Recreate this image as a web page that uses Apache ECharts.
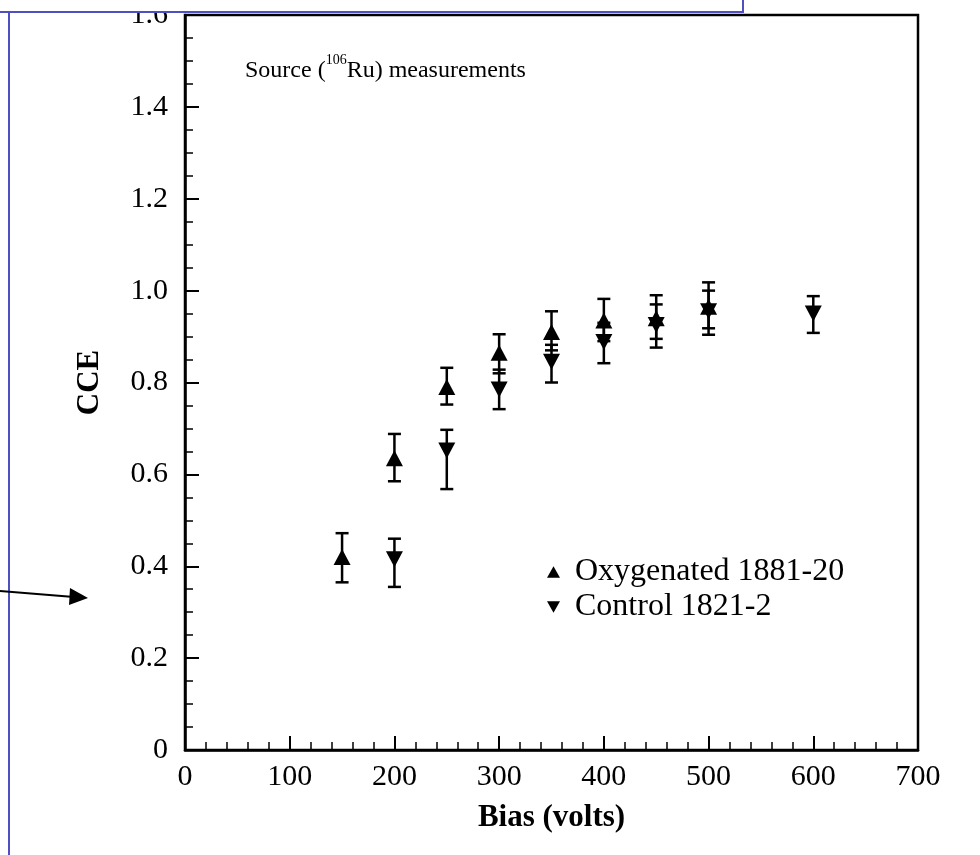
<!DOCTYPE html>
<html>
<head>
<meta charset="utf-8">
<script src="https://cdn.jsdelivr.net/npm/echarts@6/dist/echarts.min.js"></script>
<style>
html,body{margin:0;padding:0;background:#fff;}
#chart{width:980px;height:855px;}
</style>
</head>
<body>
<div id="chart"></div>
<script>
// ---- data ----
var oxyBias = [150, 200, 250, 300, 350, 400, 450, 500];
var oxyCCE  = [0.42, 0.635, 0.79, 0.865, 0.91, 0.935, 0.94, 0.965];
var oxyLow  = [0.365, 0.585, 0.752, 0.82, 0.87, 0.89, 0.895, 0.918];
var oxyHigh = [0.472, 0.688, 0.832, 0.905, 0.955, 0.982, 0.99, 1.018];

var ctlBias = [200, 250, 300, 350, 400, 450, 500, 600];
var ctlCCE  = [0.415, 0.652, 0.785, 0.845, 0.888, 0.925, 0.955, 0.95];
var ctlLow  = [0.355, 0.568, 0.742, 0.80, 0.842, 0.876, 0.904, 0.908];
var ctlHigh = [0.46, 0.697, 0.828, 0.882, 0.93, 0.97, 1.0, 0.988];

var xTicks = [0, 100, 200, 300, 400, 500, 600, 700];
var yTicks = [0, 0.2, 0.4, 0.6, 0.8, 1.0, 1.2, 1.4, 1.6];

var seriesNames = ['Oxygenated 1881-20', 'Control 1821-2'];
var titleParts = ['Source (', '106', 'Ru) measurements'];
var xName = 'Bias (volts)';
var yName = 'CCE';

// ---- build ----
var FONT = 'Liberation Serif';
function pts(xs, ys){ return xs.map(function(x,i){ return [x, ys[i]]; }); }
function errs(xs, lo, hi){ return xs.map(function(x,i){ return [x, lo[i], hi[i]]; }); }

function errRender(params, api){
  var x = api.value(0);
  var p1 = api.coord([x, api.value(1)]);
  var p2 = api.coord([x, api.value(2)]);
  var w = 6.5;
  var st = {stroke:'#000', lineWidth:2.5};
  return {type:'group', children:[
    {type:'line', shape:{x1:p1[0], y1:p1[1], x2:p2[0], y2:p2[1]}, style:st},
    {type:'line', shape:{x1:p1[0]-w, y1:p1[1], x2:p1[0]+w, y2:p1[1]}, style:st},
    {type:'line', shape:{x1:p2[0]-w, y1:p2[1], x2:p2[0]+w, y2:p2[1]}, style:st}
  ]};
}

var downTri = 'path://M0,0L10,0L5,9Z';
var upTri = 'path://M5,0L10,9L0,9Z';

var chart = echarts.init(document.getElementById('chart'), null, {renderer:'canvas'});
chart.setOption({
  animation:false,
  backgroundColor:'#fff',
  grid:{left:185, right:62, top:12, bottom:105, show:true, borderColor:'#000', borderWidth:2.5, backgroundColor:'transparent'},
  xAxis:{
    type:'value', min:0, max:700, interval:100,
    name:xName, nameLocation:'middle', nameGap:52,
    nameTextStyle:{fontFamily:FONT, fontSize:31, fontWeight:'bold', color:'#000'},
    axisLine:{show:true, lineStyle:{color:'#000', width:2.5}},
    axisTick:{show:true, inside:true, length:14, lineStyle:{color:'#000', width:2}},
    minorTick:{show:true, splitNumber:5, length:8, lineStyle:{color:'#000', width:1.5}},
    splitLine:{show:false},
    axisLabel:{fontFamily:FONT, fontSize:30, color:'#000', margin:12,
      formatter:function(v){ return xTicks.indexOf(v) >= 0 ? String(v) : ''; }}
  },
  yAxis:{
    type:'value', min:0, max:1.6, interval:0.2,
    name:yName, nameLocation:'middle', nameGap:80,
    nameTextStyle:{fontFamily:FONT, fontSize:31, fontWeight:'bold', color:'#000'},
    axisLine:{show:true, lineStyle:{color:'#000', width:2.5}},
    axisTick:{show:true, inside:true, length:14, lineStyle:{color:'#000', width:2}},
    minorTick:{show:true, splitNumber:4, length:8, lineStyle:{color:'#000', width:1.5}},
    splitLine:{show:false},
    axisLabel:{fontFamily:FONT, fontSize:30, color:'#000', margin:17,
      formatter:function(v){
        var k = yTicks.findIndex(function(t){ return Math.abs(t-v) < 1e-6; });
        if (k < 0) return '';
        return v === 0 ? '0' : yTicks[k].toFixed(1);
      }}
  },
  legend:{
    orient:'vertical', left:542, top:551, itemGap:3,
    itemWidth:13, itemHeight:12,
    textStyle:{fontFamily:FONT, fontSize:32, color:'#000', padding:[0,0,0,10]},
    data:[{name:seriesNames[0], icon:upTri}, {name:seriesNames[1], icon:downTri}]
  },
  title:{
    left:240, top:48,
    text:'{a|' + titleParts[0] + '}{s|' + titleParts[1] + '}{a|' + titleParts[2] + '}',
    textStyle:{
      fontWeight:'normal',
      rich:{
        a:{fontFamily:FONT, fontSize:24, fontWeight:'normal', color:'#000', lineHeight:30, verticalAlign:'bottom'},
        s:{fontFamily:FONT, fontSize:14, fontWeight:'normal', color:'#000', lineHeight:30, verticalAlign:'top'}
      }
    }
  },
  series:[
    {name:seriesNames[0], type:'custom', renderItem:errRender, data:errs(oxyBias, oxyLow, oxyHigh), z:2, itemStyle:{color:'#000'}},
    {name:seriesNames[1], type:'custom', renderItem:errRender, data:errs(ctlBias, ctlLow, ctlHigh), z:2, itemStyle:{color:'#000'}},
    {name:seriesNames[0], type:'scatter', symbol:upTri, symbolSize:[17,16], data:pts(oxyBias, oxyCCE), itemStyle:{color:'#000', opacity:1}, z:3},
    {name:seriesNames[1], type:'scatter', symbol:downTri, symbolSize:[17,16], data:pts(ctlBias, ctlCCE), itemStyle:{color:'#000', opacity:1}, z:3}
  ],
  graphic:[
    {type:'rect', shape:{x:0, y:0, width:743, height:12}, style:{fill:'#fff'}, z:100},
    {type:'polyline', shape:{points:[[0,12],[743,12],[743,0]]}, style:{stroke:'#4f4fbf', lineWidth:2, fill:null}, z:101},
    {type:'line', shape:{x1:9, y1:12, x2:9, y2:855}, style:{stroke:'#4f4fbf', lineWidth:2}, z:101},
    {type:'line', shape:{x1:0, y1:591, x2:74, y2:597}, style:{stroke:'#000', lineWidth:2}, z:101},
    {type:'polygon', shape:{points:[[70,588],[88,598],[69,605]]}, style:{fill:'#000'}, z:101}
  ]
});
</script>
</body>
</html>
